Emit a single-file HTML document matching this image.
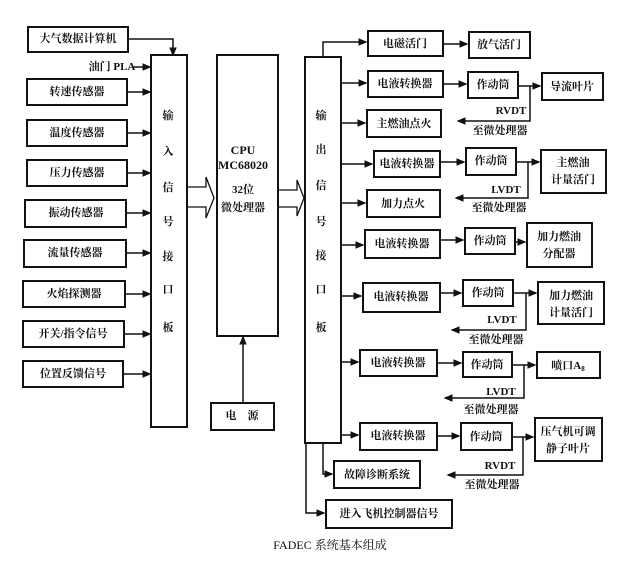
<!DOCTYPE html>
<html><head><meta charset="utf-8"><style>
html,body{margin:0;padding:0;background:#fff}
svg{display:block}
text{font-family:"Liberation Serif","Noto Serif CJK SC","Noto Sans CJK SC",serif;font-size:11px;font-weight:bold;fill:#111;text-anchor:middle;dominant-baseline:central}
rect{fill:#fff;stroke:#111;stroke-width:2}
line,polyline{stroke:#111;stroke-width:1.5;fill:none}
</style></head><body>
<svg width="640" height="571" viewBox="0 0 640 571">
<defs><marker id="a" markerWidth="6" markerHeight="6" refX="5" refY="3" orient="auto"><path d="M0,0.5 L6,3 L0,5.5z" fill="#111"/></marker></defs>
<!-- left boxes -->
<rect x="28" y="27" width="100" height="25"/><text x="78" y="39">大气数据计算机</text>
<polyline points="128,39 173,39 173,55" marker-end="url(#a)"/>
<text x="112" y="67">油门 PLA</text><line x1="133" y1="67" x2="150" y2="67" marker-end="url(#a)"/>
<rect x="27" y="79" width="100" height="26"/><text x="77" y="92">转速传感器</text>
<rect x="27" y="120" width="100" height="26"/><text x="77" y="133">温度传感器</text>
<rect x="27" y="160" width="100" height="26"/><text x="77" y="173">压力传感器</text>
<rect x="25" y="200" width="101" height="27"/><text x="76" y="213">振动传感器</text>
<rect x="24" y="240" width="102" height="27"/><text x="75" y="253">流量传感器</text>
<rect x="23" y="281" width="102" height="26"/><text x="74" y="294">火焰探测器</text>
<rect x="23" y="321" width="101" height="26"/><text x="73" y="334">开关/指令信号</text>
<rect x="23" y="361" width="100" height="26"/><text x="73" y="374">位置反馈信号</text>
<line x1="127" y1="92" x2="150" y2="92" marker-end="url(#a)"/>
<line x1="127" y1="133" x2="150" y2="133" marker-end="url(#a)"/>
<line x1="127" y1="173" x2="150" y2="173" marker-end="url(#a)"/>
<line x1="126" y1="213" x2="150" y2="213" marker-end="url(#a)"/>
<line x1="126" y1="253" x2="150" y2="253" marker-end="url(#a)"/>
<line x1="125" y1="294" x2="150" y2="294" marker-end="url(#a)"/>
<line x1="124" y1="334" x2="150" y2="334" marker-end="url(#a)"/>
<line x1="123" y1="374" x2="150" y2="374" marker-end="url(#a)"/>
<!-- input bar -->
<rect x="151" y="55" width="36" height="372"/>
<text x="168" y="116">输</text><text x="168" y="152">入</text><text x="168" y="188">信</text><text x="168" y="222">号</text><text x="168" y="257">接</text><text x="168" y="290">口</text><text x="168" y="328">板</text>
<!-- fat arrow -->
<polyline points="187,187 206,187 206,177 214,198 206,218 206,207 187,207" style="stroke-width:1.3"/>
<!-- CPU -->
<rect x="217" y="55" width="61" height="281"/>
<text x="243" y="150" style="font-size:12px">CPU</text><text x="243" y="165" style="font-size:12px">MC68020</text>
<text x="243" y="190">32位</text><text x="243" y="208">微处理器</text>
<polyline points="278,190 297,190 297,180 304,198 297,216 297,207 278,207" style="stroke-width:1.3"/>
<rect x="211" y="403" width="63" height="27"/><text x="242" y="416">电　源</text>
<line x1="243" y1="403" x2="243" y2="337" marker-end="url(#a)"/>
<!-- output bar -->
<rect x="305" y="57" width="36" height="386"/>
<text x="321" y="116">输</text><text x="321" y="150">出</text><text x="321" y="186">信</text><text x="321" y="222">号</text><text x="321" y="256">接</text><text x="321" y="290">口</text><text x="321" y="328">板</text>
<polyline points="323,57 323,42 366,42" marker-end="url(#a)"/>
<rect x="368" y="31" width="75" height="25"/><text x="405" y="44">电磁活门</text>
<line x1="443" y1="44" x2="467" y2="44" marker-end="url(#a)"/>
<rect x="469" y="32" width="61" height="26"/><text x="499" y="45">放气活门</text>
<!-- row1 -->
<line x1="341" y1="83" x2="366" y2="83" marker-end="url(#a)"/>
<rect x="368" y="71" width="75" height="26"/><text x="405" y="84">电液转换器</text>
<line x1="443" y1="84" x2="466" y2="84" marker-end="url(#a)"/>
<rect x="468" y="72" width="50" height="26"/><text x="493" y="85">作动筒</text>
<line x1="518" y1="86" x2="540" y2="86" marker-end="url(#a)"/>
<rect x="542" y="73" width="61" height="27"/><text x="572" y="87">导流叶片</text>
<polyline points="530,86 530,121 458,121" marker-end="url(#a)"/>
<text x="511" y="111">RVDT</text><text x="500" y="131">至微处理器</text>
<line x1="341" y1="123" x2="365" y2="123" marker-end="url(#a)"/>
<rect x="367" y="110" width="74" height="27"/><text x="404" y="124">主燃油点火</text>
<!-- row2 -->
<line x1="341" y1="164" x2="372" y2="164" marker-end="url(#a)"/>
<rect x="374" y="151" width="66" height="26"/><text x="407" y="164">电液转换器</text>
<line x1="440" y1="162" x2="464" y2="162" marker-end="url(#a)"/>
<rect x="466" y="148" width="50" height="27"/><text x="491" y="161">作动筒</text>
<line x1="516" y1="162" x2="539" y2="162" marker-end="url(#a)"/>
<rect x="541" y="150" width="65" height="43"/><text x="573" y="163">主燃油</text><text x="573" y="180">计量活门</text>
<polyline points="528,162 528,198 456,198" marker-end="url(#a)"/>
<text x="506" y="190">LVDT</text><text x="499" y="208">至微处理器</text>
<line x1="341" y1="203" x2="365" y2="203" marker-end="url(#a)"/>
<rect x="367" y="190" width="73" height="27"/><text x="403" y="204">加力点火</text>
<!-- row3 -->
<line x1="341" y1="245" x2="363" y2="245" marker-end="url(#a)"/>
<rect x="365" y="230" width="75" height="28"/><text x="402" y="244">电液转换器</text>
<line x1="440" y1="240" x2="463" y2="240" marker-end="url(#a)"/>
<rect x="465" y="228" width="50" height="26"/><text x="490" y="241">作动筒</text>
<line x1="515" y1="242" x2="525" y2="242" marker-end="url(#a)"/>
<rect x="527" y="223" width="65" height="44"/><text x="559" y="237">加力燃油</text><text x="559" y="254">分配器</text>
<!-- row4 -->
<line x1="341" y1="296" x2="361" y2="296" marker-end="url(#a)"/>
<rect x="363" y="283" width="77" height="29"/><text x="401" y="297">电液转换器</text>
<line x1="440" y1="293" x2="461" y2="293" marker-end="url(#a)"/>
<rect x="463" y="280" width="50" height="26"/><text x="488" y="293">作动筒</text>
<line x1="513" y1="293" x2="536" y2="293" marker-end="url(#a)"/>
<rect x="538" y="282" width="66" height="42"/><text x="571" y="296">加力燃油</text><text x="571" y="313">计量活门</text>
<polyline points="526,293 526,330 452,330" marker-end="url(#a)"/>
<text x="502" y="320">LVDT</text><text x="496" y="340">至微处理器</text>
<!-- row5 -->
<line x1="341" y1="362" x2="358" y2="362" marker-end="url(#a)"/>
<rect x="360" y="350" width="77" height="26"/><text x="398" y="363">电液转换器</text>
<line x1="437" y1="363" x2="461" y2="363" marker-end="url(#a)"/>
<rect x="463" y="352" width="49" height="25"/><text x="487" y="365">作动筒</text>
<line x1="512" y1="365" x2="535" y2="365" marker-end="url(#a)"/>
<rect x="537" y="352" width="63" height="26"/><text x="568" y="366">喷口A<tspan font-size="7" dy="3">8</tspan></text>
<polyline points="524,365 524,398 445,398" marker-end="url(#a)"/>
<text x="501" y="392">LVDT</text><text x="491" y="410">至微处理器</text>
<!-- row6 -->
<line x1="341" y1="435" x2="358" y2="435" marker-end="url(#a)"/>
<rect x="360" y="423" width="77" height="27"/><text x="398" y="436">电液转换器</text>
<line x1="437" y1="436" x2="459" y2="436" marker-end="url(#a)"/>
<rect x="461" y="423" width="51" height="27"/><text x="486" y="437">作动筒</text>
<line x1="512" y1="437" x2="533" y2="437" marker-end="url(#a)"/>
<rect x="535" y="418" width="67" height="43"/><text x="568" y="432">压气机可调</text><text x="568" y="449">静子叶片</text>
<polyline points="523,437 523,475 448,475" marker-end="url(#a)"/>
<text x="500" y="466">RVDT</text><text x="492" y="485">至微处理器</text>
<!-- bottom -->
<polyline points="323,443 323,474 332,474" marker-end="url(#a)"/>
<rect x="334" y="461" width="86" height="27"/><text x="377" y="475">故障诊断系统</text>
<polyline points="306,443 306,513 324,513" marker-end="url(#a)"/>
<rect x="326" y="500" width="126" height="28"/><text x="389" y="514">进入飞机控制器信号</text>
<text x="330" y="545" style="font-weight:normal;font-size:12px">FADEC 系统基本组成</text>
</svg>
</body></html>
